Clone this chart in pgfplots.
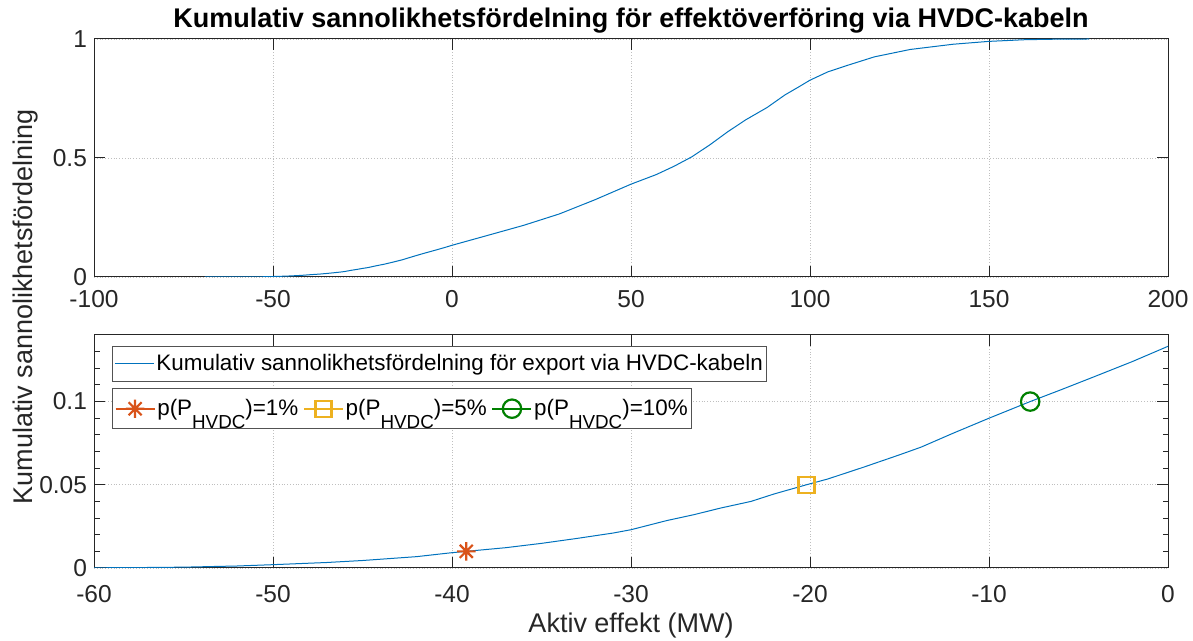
\documentclass[border=0pt]{standalone}
\usepackage{fontspec}
\setmainfont{Liberation Sans}
\usepackage{graphicx}
\usepackage{pgfplots}
\usepackage{pgfplotstable}
\pgfplotsset{compat=1.18}

\definecolor{mblue}{rgb}{0,0.447,0.741}
\definecolor{morange}{rgb}{0.85,0.325,0.098}
\definecolor{myellow}{rgb}{0.929,0.694,0.125}
\definecolor{mgreen}{rgb}{0,0.5,0}
\definecolor{axgray}{rgb}{0.15,0.15,0.15}

\pgfdeclareplotmark{matstar}{%
 \pgfpathmoveto{\pgfqpoint{-\pgfplotmarksize}{0pt}}\pgfpathlineto{\pgfqpoint{\pgfplotmarksize}{0pt}}%
 \pgfpathmoveto{\pgfqpoint{0pt}{-\pgfplotmarksize}}\pgfpathlineto{\pgfqpoint{0pt}{\pgfplotmarksize}}%
 \pgfpathmoveto{\pgfqpoint{-0.7071\pgfplotmarksize}{-0.7071\pgfplotmarksize}}\pgfpathlineto{\pgfqpoint{0.7071\pgfplotmarksize}{0.7071\pgfplotmarksize}}%
 \pgfpathmoveto{\pgfqpoint{-0.7071\pgfplotmarksize}{0.7071\pgfplotmarksize}}\pgfpathlineto{\pgfqpoint{0.7071\pgfplotmarksize}{-0.7071\pgfplotmarksize}}%
 \pgfusepathqstroke}

\newcommand{\hv}{\raisebox{-0.6em}{\fontsize{9.4}{11}\selectfont HVDC}}

\pgfplotstableread{
x y
-69 0
-65 0.00005
-60 0.0001
-57 0.0003
-55 0.0005
-52 0.0012
-50 0.002
-47 0.0033
-45 0.0045
-42 0.0068
-40 0.0092
-39.2 0.01
-37 0.0122
-35 0.0148
-33 0.0178
-31 0.021
-30 0.023
-28 0.0285
-26.5 0.032
-25 0.036
-23.3 0.040
-22 0.0445
-20.2 0.05
-19 0.0535
-17 0.0606
-15 0.068
-13.8 0.0726
-12 0.081
-10 0.09
-7.7 0.1
-6 0.107
-4.2 0.1146
-2 0.124
0 0.1332
10 0.175
20 0.217
30 0.265
40 0.325
50 0.39
57 0.43
62 0.465
67 0.505
72 0.555
77 0.61
82 0.66
88 0.712
93 0.765
97 0.80
100 0.827
105 0.862
110 0.887
118 0.925
128 0.956
140 0.978
150 0.99
160 0.997
170 0.9995
178 1
}\cdf

\pgfplotsset{mystyle/.style={
  scale only axis, width=537pt,
  axis line style={axgray,line width=0.5pt},
  tick style={axgray,line width=0.5pt},
  tick align=inside, major tick length=5.5pt, minor tick length=2.75pt,
  grid=major, major grid style={gray!50, densely dotted, line width=0.4pt},
  ticklabel style={font=\fontsize{12.25}{14}\selectfont, text=axgray},
}}

\begin{document}
\begin{tikzpicture}
\useasboundingbox (0,0) rectangle (596.5pt,320.5pt);

\begin{axis}[mystyle, at={(47pt,182pt)}, anchor=south west, height=119pt,
  xmin=-100, xmax=200, ymin=0, ymax=1,
  xtick={-100,-50,0,50,100,150,200}, xticklabels={-100,-50,0,50,100,150,200},
  ytick={0,0.5,1}, yticklabels={0,0.5,1},
  xticklabel style={yshift=-3pt},
  title={Kumulativ sannolikhetsfördelning för effektöverföring via HVDC-kabeln},
  every axis title/.style={font=\fontsize{13.5}{16}\selectfont\bfseries, at={(axis description cs:0.5,1)}, anchor=base, yshift=5.5pt},
]
\addplot[mblue, line width=0.5pt] table[x=x,y=y] {\cdf};
\end{axis}

\begin{axis}[mystyle, at={(47pt,36.5pt)}, anchor=south west, height=116.5pt,
  xmin=-60, xmax=0, ymin=0, ymax=0.14,
  xtick={-60,-50,-40,-30,-20,-10,0}, xticklabels={-60,-50,-40,-30,-20,-10,0},
  ytick={0,0.05,0.1}, yticklabels={0,0.05,0.1},
  minor ytick={0.01,0.02,0.03,0.04,0.06,0.07,0.08,0.09,0.11,0.12,0.13},
  xticklabel style={yshift=-5pt},
  xlabel={Aktiv effekt (MW)},
  xlabel style={font=\fontsize{13.5}{16}\selectfont, text=axgray, at={(axis description cs:0.5,0)}, anchor=base, yshift=-32.5pt},
  legend style={at={(0.01676,0.954)}, anchor=north west, font=\fontsize{11.2}{13}\selectfont,
    draw=axgray!80, line width=0.5pt, inner xsep=1pt, inner ysep=1.5pt, fill=white,
    nodes={inner xsep=1pt, inner ysep=2.5pt}},
  legend image code/.code={\draw[#1] (0pt,0pt) -- (19.5pt,0pt);},
]
\addplot[mblue, line width=0.5pt] table[x=x,y=y] {\cdf};
\addlegendentry{Kumulativ sannolikhetsfördelning för export via HVDC-kabeln}
\end{axis}

\begin{axis}[scale only axis, width=537pt, height=116.5pt, at={(47pt,36.5pt)}, anchor=south west,
  xmin=-60, xmax=0, ymin=0, ymax=0.14, hide axis,
  legend columns=3,
  legend style={at={(0.01676,0.7725)}, anchor=north west, font=\fontsize{11.2}{13}\selectfont,
    draw=axgray!80, line width=0.5pt, inner xsep=1pt, inner ysep=2.8pt, fill=white,
    nodes={inner xsep=0.8pt, inner ysep=2.5pt},
    /tikz/every even column/.append style={column sep=1.5pt},
    /tikz/every odd column/.append style={column sep=0pt}},
  legend image code/.code={\draw[#1, mark repeat=2, mark phase=2] plot coordinates {(0pt,0pt) (9.75pt,0pt) (19.5pt,0pt)};},
]
\addplot[morange, line width=1.1pt, mark=matstar, mark size=4.6pt] coordinates {(-39.2,0.01)};
\addlegendentry{p(P\hv)=1\%}
\addplot[myellow, line width=1.1pt, mark=square, mark size=4pt] coordinates {(-20.2,0.05)};
\addlegendentry{p(P\hv)=5\%}
\addplot[mgreen, line width=1.1pt, mark=o, mark size=4.6pt] coordinates {(-7.7,0.1)};
\addlegendentry{p(P\hv)=10\%}
\end{axis}

\node[rotate=90, font=\fontsize{13.5}{16}\selectfont, text=axgray] at (13pt,167pt) {Kumulativ sannolikhetsfördelning};
\end{tikzpicture}
\end{document}
